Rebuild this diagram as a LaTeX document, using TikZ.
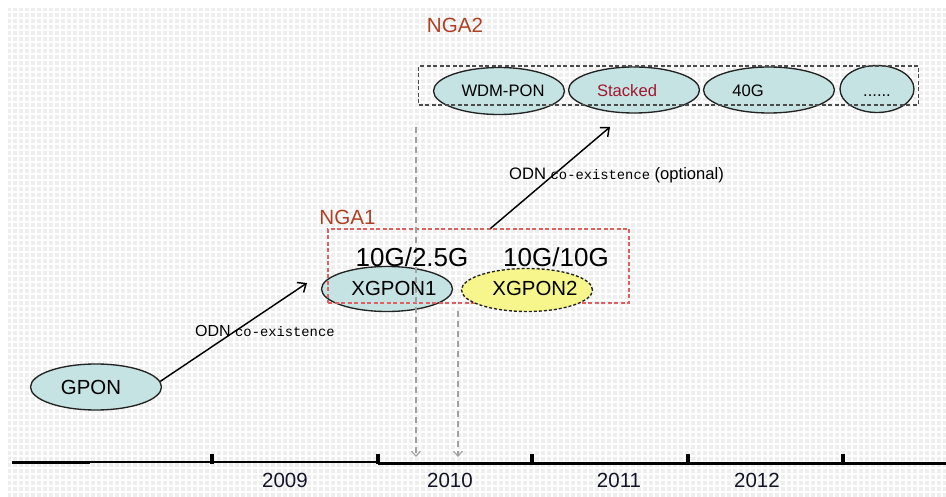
\documentclass[tikz,border=0pt]{standalone}
\usepackage{fontspec}
\setmainfont{Liberation Sans}
\newfontfamily\monof{Liberation Mono}
\usetikzlibrary{shapes.geometric,arrows.meta}

\definecolor{paper}{RGB}{238,238,238}
\definecolor{tealfill}{RGB}{198,227,227}
\definecolor{yellowfill}{RGB}{246,246,140}
\definecolor{ngared}{RGB}{176,64,36}
\definecolor{stackred}{RGB}{160,24,48}
\definecolor{boxred}{RGB}{222,96,96}
\definecolor{guide}{RGB}{160,160,160}
\definecolor{outline}{RGB}{35,35,35}

\tikzset{
  pon/.style={ellipse, draw=outline, line width=1.35pt, fill=tealfill,
    inner sep=0pt, minimum width=131pt, minimum height=45pt},
  ponlbl/.style={inner sep=0pt, anchor=base,
    font=\fontsize{20.4}{24}\selectfont},
  smalllbl/.style={inner sep=0pt, anchor=base,
    font=\fontsize{16.6}{20}\selectfont},
  ngalbl/.style={inner sep=0pt, anchor=base, text=ngared,
    font=\fontsize{20.6}{24}\selectfont},
  ratelbl/.style={inner sep=0pt, anchor=base,
    font=\fontsize{26}{30}\selectfont},
  yearlbl/.style={inner sep=0pt, anchor=base, text={rgb,255:red,20;green,20;blue,40},
    font=\fontsize{20.5}{24}\selectfont},
  conn/.style={line width=1.45pt, -{Straight Barb[length=7pt,width=12pt,line width=1.45pt]}},
  guideline/.style={draw=guide, line width=1.2pt, dash pattern=on 6pt off 4pt,
    -{Straight Barb[length=5pt,width=9pt,line width=1.1pt]}},
  axis/.style={line width=2.8pt, black}
}
\newcommand{\monopart}[1]{{\monof\fontsize{13.8}{16}\selectfont #1}}

\begin{document}
\begin{tikzpicture}[x=1pt,y=-1pt]
\useasboundingbox (0,0) rectangle (946,497);

% grey slide background with its fine grid
\fill[paper] (8,8) rectangle (946,497);
\draw[white, line width=1.3pt, step=6pt] (8,8) grid (946,497);

% NGA1 group
\node[pon] (xg1) at (387,289) {};
\node[draw=boxred, line width=1.1pt, dash pattern=on 4pt off 2.5pt,
      minimum width=301pt, minimum height=74pt, inner sep=0pt] (nga1box) at (478.5,266) {};
\node[pon, fill=yellowfill, dash pattern=on 3pt off 2pt, minimum height=43pt] (xg2) at (527,290) {};

% NGA2 group
\node[pon, minimum height=47pt] (wdm) at (499,91) {};
\node[pon, minimum height=46pt] (stk) at (634,90) {};
\node[pon, minimum height=46pt] (g40) at (769,90) {};
\node[pon, minimum width=74pt, minimum height=47pt] (etc) at (877,89) {};
\node[draw={rgb,255:red,75;green,75;blue,75}, line width=1.1pt, dash pattern=on 4pt off 2.5pt,
      minimum width=500pt, minimum height=39pt, inner sep=0pt] (nga2box) at (668.5,85.5) {};

% GPON
\node[pon, minimum height=46pt] (gpon) at (96,387) {};

% guide lines down to the time axis
\coordinate (v1top) at (416,127);
\coordinate (v1bot) at (416,457);
\coordinate (v2top) at (458,311);
\coordinate (v2bot) at (458,457);
\draw[guideline] (v1top) -- (v1bot);
\draw[guideline] (v2top) -- (v2bot);

% migration arrows
\coordinate (tip1) at (307,283);
\coordinate (tip2) at (610,127);
\draw[conn] (gpon.5) -- (tip1);
\draw[conn] ([xshift=12pt]nga1box.north) -- (tip2);

% labels
\node[ngalbl] (nga2) at (455,33) {NGA2};
\node[ngalbl] (nga1) at (347.5,225) {NGA1};
\node[ratelbl] (r1) at (412,267) {10G/2.5G};
\node[ratelbl] (r2) at (556,267) {10G/10G};
\node[ponlbl] (xg1t) at (394,296) {XGPON1};
\node[ponlbl] (xg2t) at (535,296) {XGPON2};
\node[ponlbl] (gpont) at (91,394) {GPON};
\node[smalllbl] (wdmt) at (503,97) {WDM-PON};
\node[smalllbl, text=stackred] (stkt) at (627,97) {Stacked};
\node[smalllbl] (g40t) at (748,97) {40G};
\node[smalllbl] (etct) at (877,97) {......};
\node[smalllbl, anchor=base west] (odn1) at (509,180) {ODN \monopart{co-existence} (optional)};
\node[smalllbl, anchor=base west, font=\fontsize{16}{19}\selectfont] (odn2) at (195,337) {ODN \monopart{co-existence}};

% time axis
\draw[axis, line width=3.2pt] (12,462.5) -- (90,462.5);
\draw[axis, line width=2.4pt] (90,462) -- (378,462);
\draw[axis] (378,463.5) -- (946,463.5);
\foreach \tx in {212,378,532,688,843}
  \draw[line width=3.2pt] (\tx,453.5) -- (\tx,464);
\node[yearlbl] (y09) at (285,487) {2009};
\node[yearlbl] (y10) at (450,487) {2010};
\node[yearlbl] (y11) at (619,487) {2011};
\node[yearlbl] (y12) at (757,487) {2012};
\end{tikzpicture}
\end{document}
